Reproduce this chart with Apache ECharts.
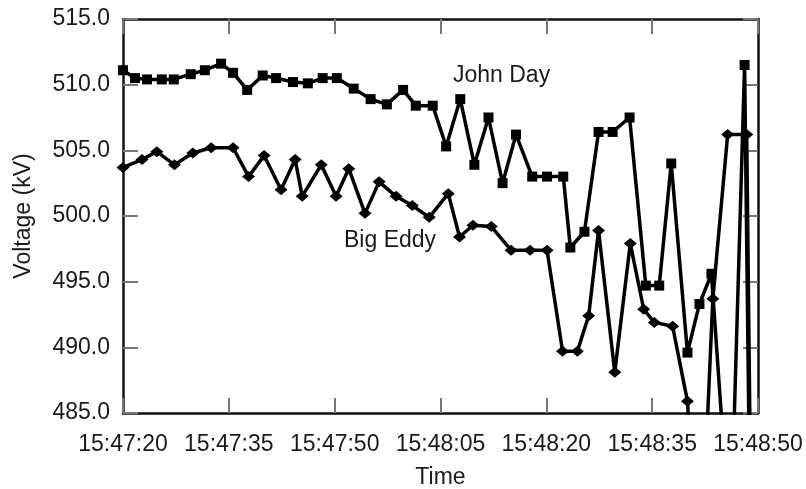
<!DOCTYPE html>
<html>
<head>
<meta charset="utf-8">
<style>
  html, body { margin: 0; padding: 0; background: #fff; }
  #chart { width: 806px; height: 489px; }
</style>
<script src="https://cdn.jsdelivr.net/npm/echarts@6/dist/echarts.min.js"></script>
</head>
<body>
<div id="chart"></div>
<script>
// Time offsets in seconds after 15:47:20, and voltages (kV)
const startTime = "15:47:20";
const johnDayTimes = [0.0, 1.7, 3.4, 5.5, 7.2, 9.6, 11.6, 13.9, 15.6, 17.6, 19.8, 21.7, 24.1, 26.2, 28.3, 30.3, 32.7, 35.1, 37.4, 39.7, 41.5, 43.9, 45.8, 47.8, 49.8, 51.8, 53.8, 55.7, 58.0, 60.1, 62.4, 63.4, 65.4, 67.4, 69.4, 71.8, 74.1, 76.0, 77.7, 80.0, 81.7, 83.4, 86.1, 88.1, 90.0];
const johnDayVolts = [511.1, 510.5, 510.4, 510.4, 510.4, 510.8, 511.1, 511.6, 510.9, 509.6, 510.7, 510.5, 510.2, 510.1, 510.5, 510.5, 509.7, 508.9, 508.5, 509.6, 508.4, 508.4, 505.3, 508.9, 503.9, 507.5, 502.5, 506.2, 503.0, 503.0, 503.0, 497.6, 498.8, 506.4, 506.4, 507.5, 494.7, 494.7, 504.0, 489.6, 493.3, 495.6, 474.9, 511.5, 425.4];
const bigEddyTimes = [0.0, 2.7, 4.8, 7.3, 9.9, 12.5, 15.6, 17.8, 20.0, 22.4, 24.4, 25.4, 28.1, 30.2, 32.0, 34.3, 36.3, 38.7, 41.0, 43.4, 46.1, 47.7, 49.6, 52.2, 55.0, 57.7, 60.1, 62.3, 64.4, 66.0, 67.4, 69.7, 71.9, 73.8, 75.3, 77.9, 80.0, 81.7, 83.6, 85.7, 88.4, 90.0];
const bigEddyVolts = [503.7, 504.3, 504.9, 503.9, 504.8, 505.2, 505.2, 503.0, 504.6, 502.0, 504.3, 501.5, 503.9, 501.5, 503.6, 500.2, 502.6, 501.5, 500.8, 499.9, 501.7, 498.4, 499.3, 499.2, 497.4, 497.4, 497.4, 489.7, 489.7, 492.4, 498.9, 488.1, 497.9, 492.9, 491.9, 491.6, 485.9, 470.8, 493.7, 506.2, 506.2, 428.5];
const yTicks = [485, 490, 495, 500, 505, 510, 515];
const xTickStep = 15;

function fmtTime(sec) {
  const p = startTime.split(':').map(Number);
  let t = p[0] * 3600 + p[1] * 60 + p[2] + Math.round(sec);
  const h = Math.floor(t / 3600), m = Math.floor((t % 3600) / 60), s = t % 60;
  return h + ':' + String(m).padStart(2, '0') + ':' + String(s).padStart(2, '0');
}
function pairs(xs, ys) { return xs.map((x, i) => [x, ys[i]]); }

const FONT = 'Liberation Sans';
const TXT = '#1a1a1a';
const axisLine = { show: true, onZero: false, lineStyle: { color: '#111', width: 2.5 } };
const tick = { show: true, inside: true, length: 15, lineStyle: { color: '#777', width: 2 } };

const chart = echarts.init(document.getElementById('chart'), null, { renderer: 'canvas' });
chart.setOption({
  animation: false,
  backgroundColor: '#fff',
  grid: { left: 123, right: 48, top: 19, bottom: 76, containLabel: false, outerBoundsMode: 'none' },
  xAxis: [{
    type: 'value', min: 0, max: 90, interval: xTickStep, position: 'bottom',
    axisLine: axisLine, axisTick: tick, splitLine: { show: false },
    axisLabel: { formatter: fmtTime, fontFamily: FONT, fontSize: 23, color: TXT, margin: 20 },
    name: 'Time', nameLocation: 'middle', nameGap: 53,
    nameTextStyle: { fontFamily: FONT, fontSize: 23, color: TXT }
  }, {
    type: 'value', min: 0, max: 90, interval: xTickStep, position: 'top',
    axisLine: axisLine, axisTick: tick, splitLine: { show: false }, axisLabel: { show: false }
  }],
  yAxis: [{
    type: 'value', min: yTicks[0], max: yTicks[yTicks.length - 1], interval: 5, position: 'left',
    axisLine: axisLine, axisTick: tick, splitLine: { show: false },
    axisLabel: { formatter: v => v.toFixed(1), fontFamily: FONT, fontSize: 23, color: TXT, margin: 13 },
    name: 'Voltage (kV)', nameLocation: 'middle', nameGap: 88, nameRotate: 90,
    nameTextStyle: { fontFamily: FONT, fontSize: 23, color: TXT }
  }, {
    type: 'value', min: yTicks[0], max: yTicks[yTicks.length - 1], interval: 5, position: 'right',
    axisLine: axisLine, axisTick: tick, splitLine: { show: false }, axisLabel: { show: false }
  }],
  series: [{
    name: 'John Day', type: 'line', xAxisIndex: 0, yAxisIndex: 0,
    data: pairs(johnDayTimes, johnDayVolts), clip: true,
    symbol: 'rect', symbolSize: 10, showAllSymbol: true,
    lineStyle: { color: '#000', width: 3.5 }, itemStyle: { color: '#000' }
  }, {
    name: 'Big Eddy', type: 'line', xAxisIndex: 0, yAxisIndex: 0,
    data: pairs(bigEddyTimes, bigEddyVolts), clip: true,
    symbol: 'diamond', symbolSize: [13, 11], showAllSymbol: true,
    lineStyle: { color: '#000', width: 3.5 }, itemStyle: { color: '#000' }
  }],
  graphic: [
    { type: 'text', left: 453, top: 64, style: { text: 'John Day', fontFamily: FONT, fontSize: 23, fill: TXT } },
    { type: 'text', left: 344, top: 229, style: { text: 'Big Eddy', fontFamily: FONT, fontSize: 23, fill: TXT } }
  ]
});
</script>
</body>
</html>
